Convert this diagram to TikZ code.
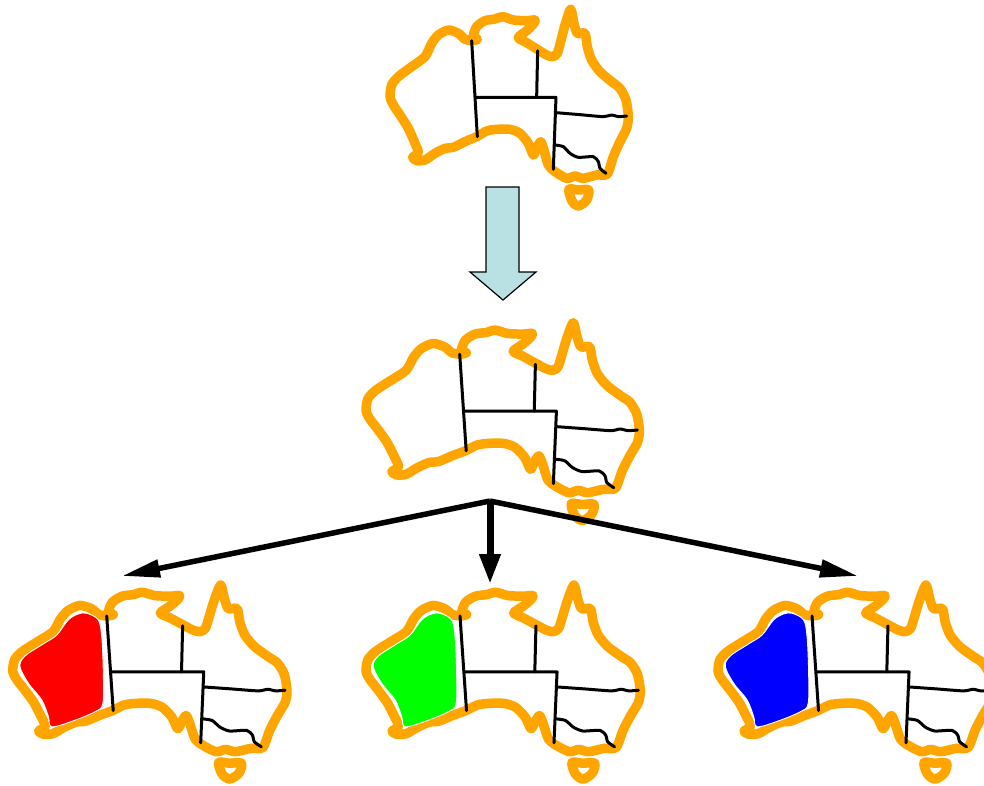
\documentclass[tikz,border=0pt]{standalone}
\usetikzlibrary{arrows.meta}
\definecolor{coast}{HTML}{FFA500}
\definecolor{blockblue}{HTML}{B9E0E3}
\newcommand{\ausmap}[4]{%
\begin{scope}[shift={(#1,#2)},xscale=#3,yscale=#4]
 \draw[coastline] plot[smooth,tension=0.45] coordinates {(284,118)(305,122)(322,118)(310,108)(320,80)(345,62)(375,57)(398,50)(430,60)(470,62)(495,60)(490,72)(470,92)(445,113)(470,128)(505,150)(530,165)(548,170)(562,160)(572,125)(585,75)(602,28)(612,70)(622,100)(645,100)(652,140)(665,180)(690,215)(725,245)(750,265)(768,300)(775,350)(770,385)(750,425)(730,470)(712,522)(680,525)(640,535)(615,528)(590,535)(555,515)(535,495)(522,450)(512,425)(500,445)(490,465)(475,430)(450,400)(420,388)(380,388)(350,393)(320,410)(285,425)(250,442)(225,445)(195,460)(165,480)(140,482)(128,472)(145,458)(135,430)(115,385)(90,345)(70,315)(60,290)(65,255)(85,230)(125,200)(165,170)(185,130)(205,105)(235,90)(265,100)(284,118)};
 \draw[coastline] plot[smooth cycle,tension=0.5] coordinates {(597,568)(625,570)(656,570)(650,600)(626,618)(606,603)};
 \draw[border] (305,122) -- (322,410);
 \draw[border] (503,152) -- (500,292);
 \draw[border] (317,292) -- (558,292) -- (550,508);
 \draw[border] plot[smooth,tension=0.4] coordinates {(558,338)(630,344)(700,350)(725,345)(745,350)(770,348)};
 \draw[border] plot[smooth,tension=0.4] coordinates {(555,435)(580,440)(600,460)(625,472)(670,470)(685,485)(690,505)(708,520)};
\end{scope}}
\newcommand{\wablob}[4]{%
\begin{scope}[shift={(#1,#2)},xscale=#3,yscale=0.3288]
 \fill[#4,draw=white,line width=0.9pt] plot[smooth cycle,tension=0.55] coordinates {(253,114)(283,134)(292,185)(296,287)(295,388)(275,413)(218,441)(162,459)(153,428)(136,378)(101,327)(79,276)(92,244)(140,207)(175,180)(205,134)(231,116)};
\end{scope}}
\tikzset{
 coastline/.style={draw=coast,line width=9.5pt,line join=round,line cap=round},
 border/.style={draw=black,line width=3pt,line join=round,line cap=round},
 blockarrow/.style={draw=black,line width=1.2pt,fill=blockblue,line join=miter},
 fanarrow/.style={draw=black,line width=5.5pt,-{Triangle[length=38pt,width=17pt]}},
 downarrow/.style={draw=black,line width=7pt,-{Triangle[length=30pt,width=20pt]}}
}
\begin{document}
\begin{tikzpicture}[x=1pt,y=-1pt]
 \useasboundingbox (0,0) rectangle (984,785);
 \fill[white] (0,0) rectangle (984,785);
 \ausmap{370}{0}{0.3333}{0.3333}
 \draw[blockarrow] (486,187) -- (519,187) -- (519,272) -- (536,272) -- (503,300) -- (470,272) -- (486,272) -- cycle;
 \ausmap{343.1}{313.3}{0.3823}{0.3353}
 \ausmap{-10.3}{575.8}{0.3836}{0.3288}
 \ausmap{343}{575.8}{0.3836}{0.3288}
 \ausmap{695}{575.8}{0.3836}{0.3288}
 \wablob{-10.3}{575.8}{0.3836}{red}
 \wablob{343}{575.8}{0.3836}{green}
 \wablob{695}{575.8}{0.3836}{blue}
 \coordinate (hub) at (490,501);
 \coordinate (leftend) at (122,576);
 \coordinate (midend) at (490,584);
 \coordinate (rightend) at (858,576);
 \draw[fanarrow] (hub) -- (leftend);
 \draw[fanarrow] (hub) -- (rightend);
 \draw[downarrow] (hub) -- (midend);
\end{tikzpicture}
\end{document}
